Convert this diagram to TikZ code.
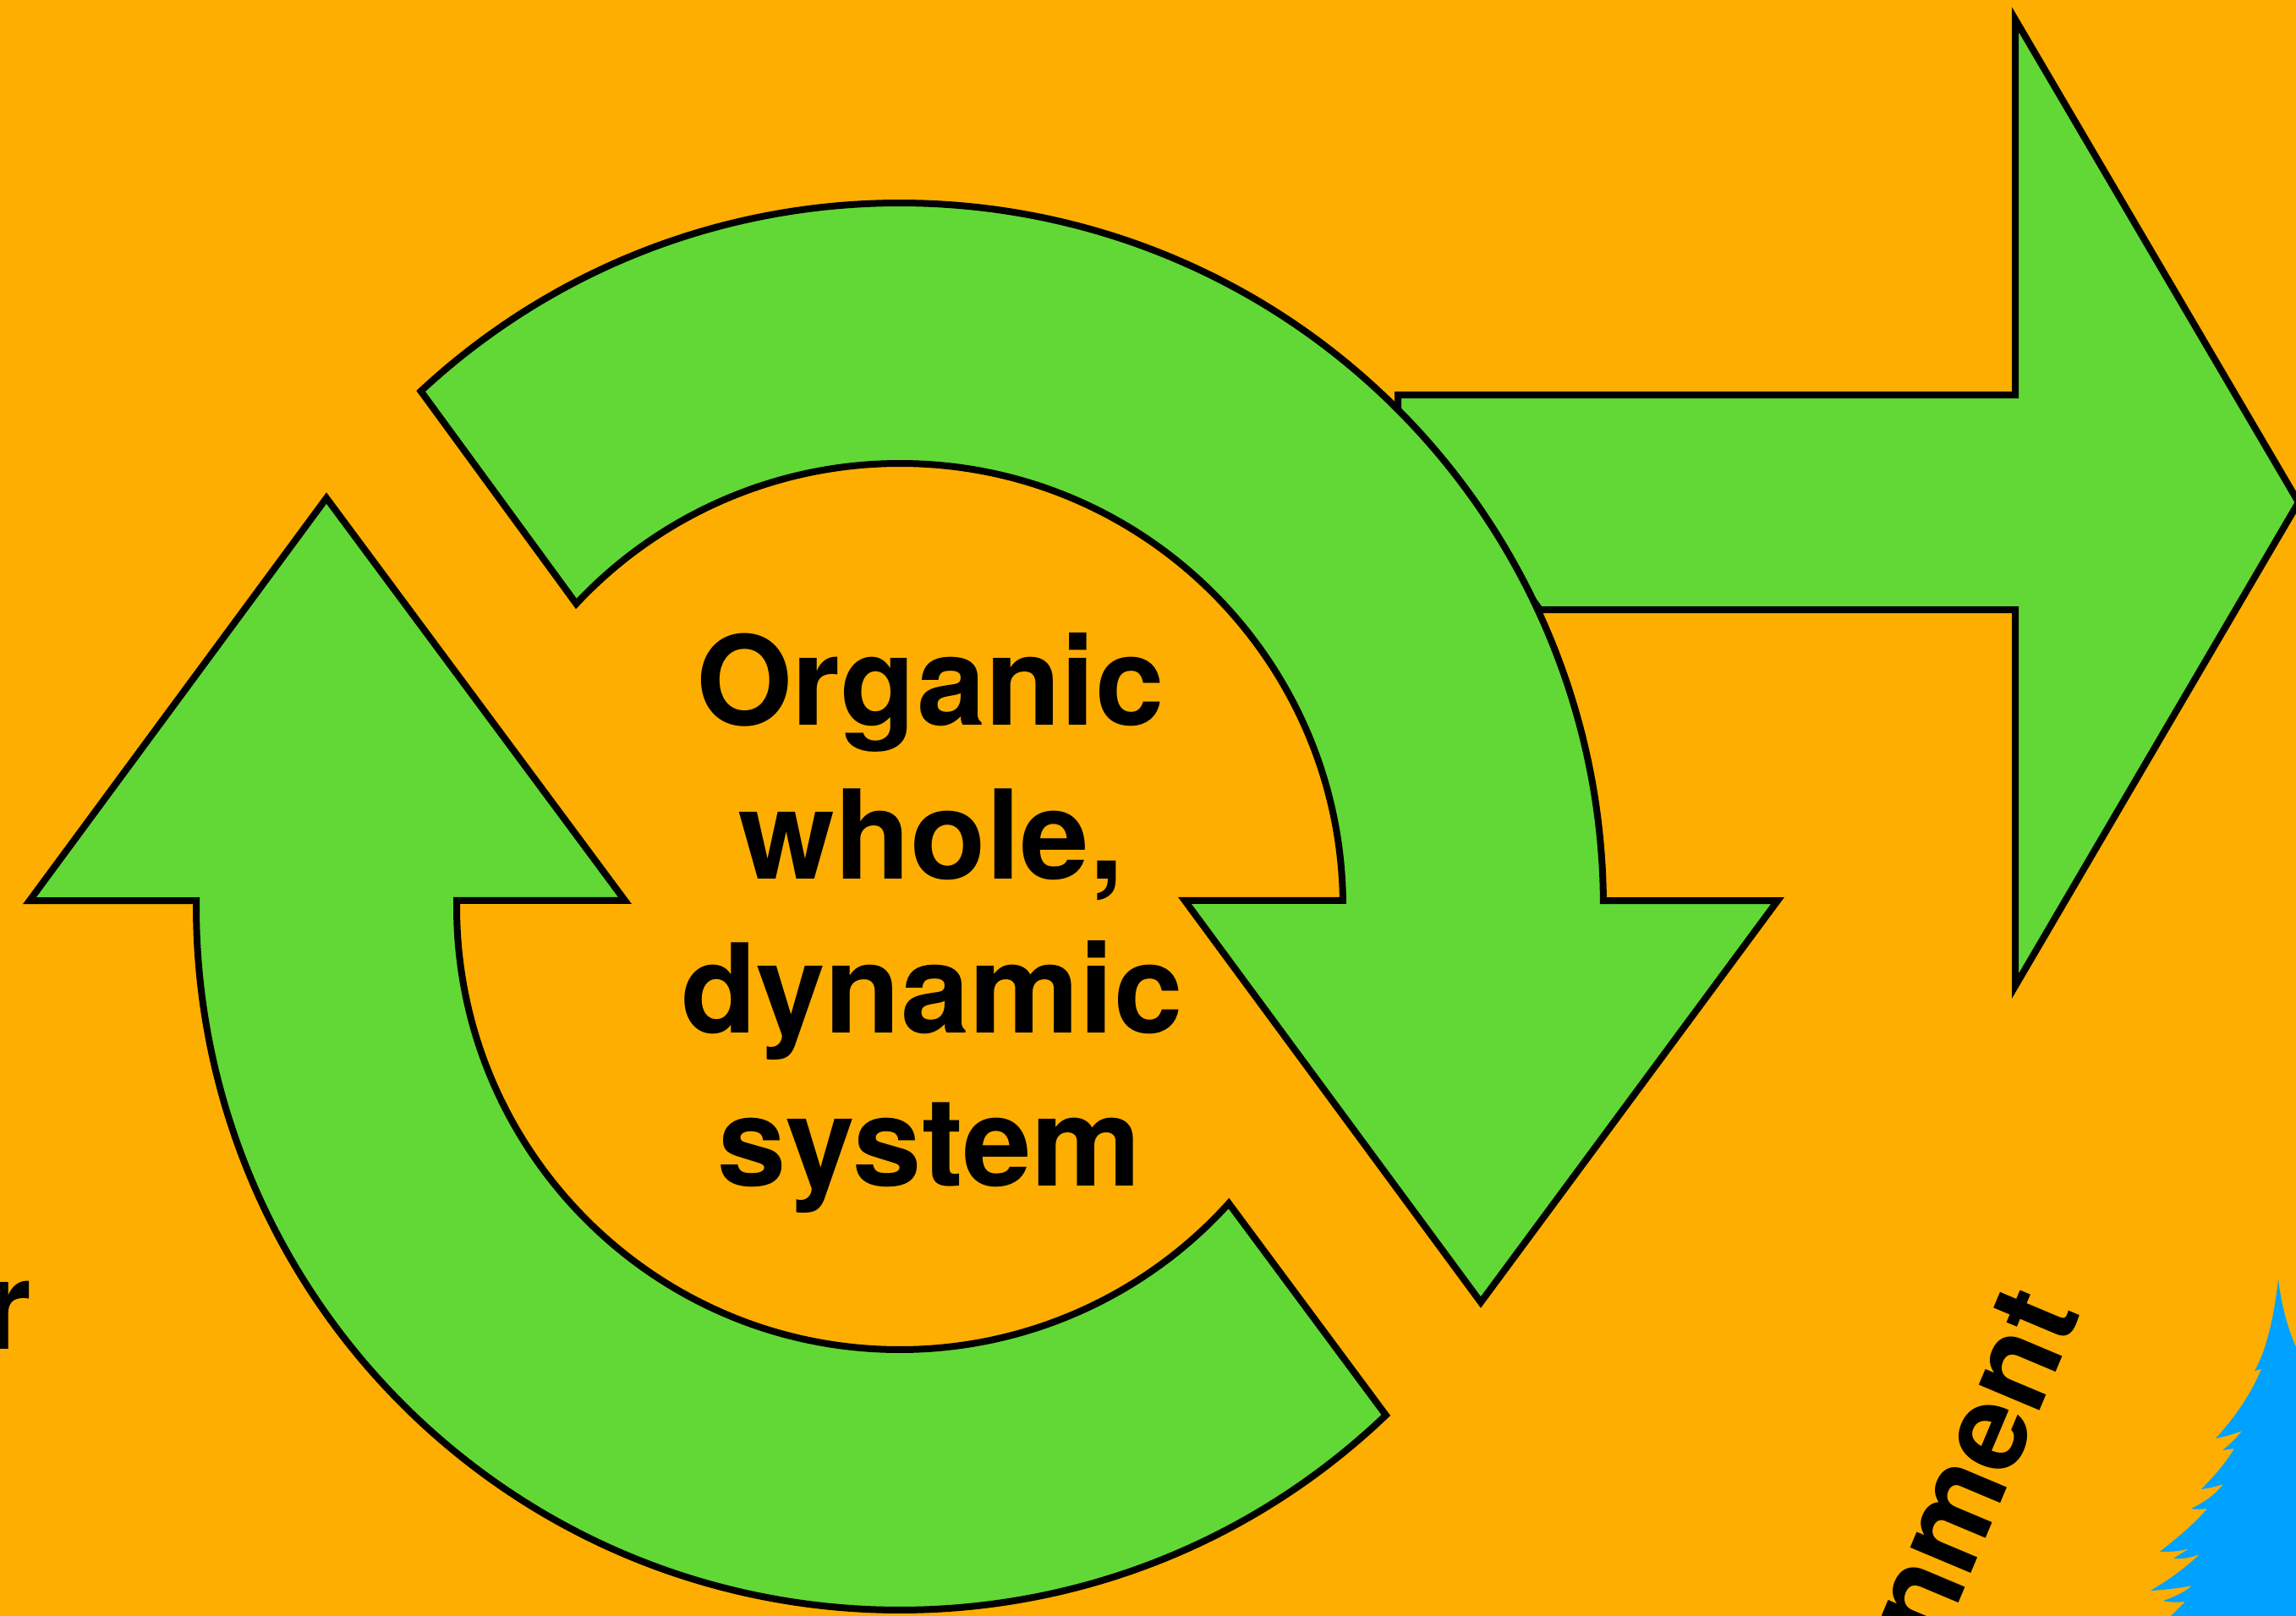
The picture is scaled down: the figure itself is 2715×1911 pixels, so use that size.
\documentclass[tikz,border=0pt]{standalone}
\usepackage{fontspec}
\setmainfont{TeX Gyre Heros}
\definecolor{bgorange}{HTML}{FEAE00}
\definecolor{leafgreen}{HTML}{61D836}
\definecolor{treeblue}{HTML}{00A2FF}
\tikzset{
  shapeline/.style={draw=black,fill=leafgreen,line width=4pt,miter limit=10},
  bigword/.style={inner sep=0pt,outer sep=0pt,anchor=base,font=\fontsize{73.2}{73.2}\selectfont\bfseries,text=black}
}
\begin{document}
\begin{tikzpicture}[x=0.5pt,y=-0.5pt]
\useasboundingbox (0,0) rectangle (2715,1911);
\clip (0,0) rectangle (2715,1911);
\fill[bgorange] (0,0) rectangle (2715,1911);
% tree
\fill[treeblue] (2694,1513) .. controls (2698,1545) and (2705,1570) .. (2715,1593)
 -- (2730,1600) -- (2730,1920) -- (2567,1920) -- (2567,1911) -- (2584,1894)
 .. controls (2575,1895) and (2566,1895) .. (2558,1893)
 .. controls (2572,1888) and (2583,1883) .. (2592,1875)
 .. controls (2578,1878) and (2560,1880) .. (2543,1881)
 .. controls (2565,1868) and (2583,1855) .. (2601,1838)
 .. controls (2591,1842) and (2580,1844) .. (2570,1843)
 -- (2589,1831)
 .. controls (2577,1835) and (2565,1835) .. (2554,1835)
 .. controls (2575,1818) and (2594,1803) .. (2610,1784)
 .. controls (2604,1785) and (2597,1785) .. (2591,1784)
 .. controls (2607,1776) and (2619,1768) .. (2629,1755)
 .. controls (2620,1758) and (2612,1760) .. (2603,1761)
 .. controls (2618,1746) and (2631,1731) .. (2642,1713)
 -- (2628,1715) .. controls (2637,1708) and (2645,1700) .. (2651,1692)
 .. controls (2641,1696) and (2630,1699) .. (2620,1701)
 .. controls (2642,1677) and (2661,1650) .. (2674,1619)
 -- (2666,1621) .. controls (2681,1596) and (2690,1550) .. (2694,1513) -- cycle;
% right arrow
\path[shapeline] (1653,467) -- (2383,467) -- (2383,23) -- (2718,594) -- (2383,1166) -- (2383,721) -- (1821,721) -- (1653,490) -- cycle;
% top arc arrow
\path[shapeline] ([shift={(1064,1072)}]-132.9:832) arc[start angle=-132.9,end angle=-0.48,radius=832] -- (2102,1065.03) -- (1751,1540) -- (1401,1064.96) -- ([shift={(1064,1072)}]-0.77:524) arc[start angle=-0.77,end angle=-136.9,radius=524] -- cycle;
% bottom arc arrow
\path[shapeline] ([shift={(1064,1072)}]46.3:832) arc[start angle=46.3,end angle=180.48,radius=832] -- (35,1065.03) -- (386,589) -- (739,1064.96) -- ([shift={(1064,1072)}]180.77:524) arc[start angle=180.77,end angle=42.06,radius=524] -- cycle;
% central text
\node[bigword] (l1) at (1100,857) {Organic};
\node[bigword] (l2) at (1101,1039) {whole,};
\node[bigword] (l3) at (1102,1221) {dynamic};
\node[bigword] (l4) at (1099,1402) {system};
% cut-off labels
\node[inner sep=0pt,anchor=base east,font=\fontsize{73.2}{73.2}\selectfont\bfseries] (cutr) at (38,1595) {r};
\node[inner sep=0pt,anchor=base east,rotate=67.2,font=\fontsize{72}{72}\selectfont\bfseries] (cutm) at (2461,1551) {nment};
\end{tikzpicture}
\end{document}
